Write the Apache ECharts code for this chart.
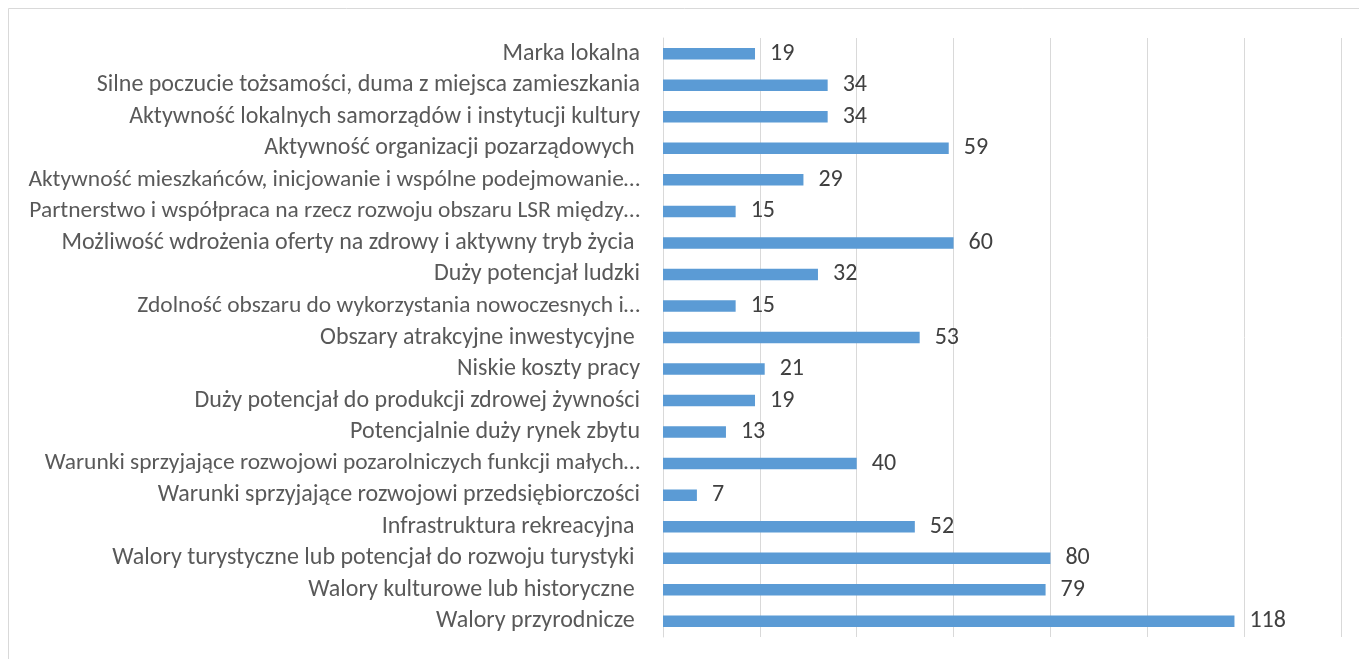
<!DOCTYPE html>
<html><head><meta charset="utf-8">
<script src="https://cdn.jsdelivr.net/npm/echarts@6/dist/echarts.min.js"></script>
<style>html,body{margin:0;padding:0;background:#fff}#c{width:1359px;height:659px}</style>
</head><body>
<div id="c"></div>
<script>
const categories = [
  'Marka lokalna',
  'Silne poczucie tożsamości, duma z miejsca zamieszkania',
  'Aktywność lokalnych samorządów i instytucji kultury',
  'Aktywność organizacji pozarządowych ',
  'Aktywność mieszkańców, inicjowanie i wspólne podejmowanie…',
  'Partnerstwo i współpraca na rzecz rozwoju obszaru LSR między…',
  'Możliwość wdrożenia oferty na zdrowy i aktywny tryb życia ',
  'Duży potencjał ludzki',
  'Zdolność obszaru do wykorzystania nowoczesnych i…',
  'Obszary atrakcyjne inwestycyjne ',
  'Niskie koszty pracy',
  'Duży potencjał do produkcji zdrowej żywności',
  'Potencjalnie duży rynek zbytu',
  'Warunki sprzyjające rozwojowi pozarolniczych funkcji małych…',
  'Warunki sprzyjające rozwojowi przedsiębiorczości',
  'Infrastruktura rekreacyjna ',
  'Walory turystyczne lub potencjał do rozwoju turystyki ',
  'Walory kulturowe lub historyczne ',
  'Walory przyrodnicze '
];
const values = [19, 34, 34, 59, 29, 15, 60, 32, 15, 53, 21, 19, 13, 40, 7, 52, 80, 79, 118];
const xMin = 0, xMax = 140, xStep = 20;

const FONT = 'Carlito, "Liberation Sans Narrow", "Open Sans", sans-serif';
const chart = echarts.init(document.getElementById('c'), null, {renderer: 'canvas'});
chart.setOption({
  animation: false,
  backgroundColor: '#ffffff',
  graphic: [{
    type: 'rect', silent: true, z: -10,
    shape: {x: 8.5, y: 8.5, width: 1400, height: 700},
    style: {fill: 'none', stroke: '#d9d9d9', lineWidth: 1}
  }],
  grid: {left: 663, right: 18, top: 38, bottom: 22, containLabel: false},
  xAxis: {
    type: 'value', min: xMin, max: xMax, interval: xStep,
    axisLabel: {show: false},
    axisLine: {show: false},
    axisTick: {show: false},
    splitLine: {show: true, lineStyle: {color: '#d9d9d9', width: 1}}
  },
  yAxis: {
    type: 'category', data: categories, inverse: true,
    axisLine: {show: true, lineStyle: {color: '#d9d9d9', width: 1}},
    axisTick: {show: false},
    axisLabel: {
      color: '#595959', fontSize: 24, fontFamily: FONT, margin: 23,
      formatter: function (v) { return v.endsWith('…') ? '{t|' + v + '}' : v; },
      rich: {t: {color: '#595959', fontSize: 23.45, fontFamily: FONT}}
    }
  },
  series: [{
    type: 'bar', data: values, barWidth: 11.5,
    itemStyle: {color: '#5b9bd5'},
    label: {show: true, position: 'right', distance: 15, color: '#404040', fontSize: 24, fontFamily: FONT}
  }]
});
</script></body></html>
